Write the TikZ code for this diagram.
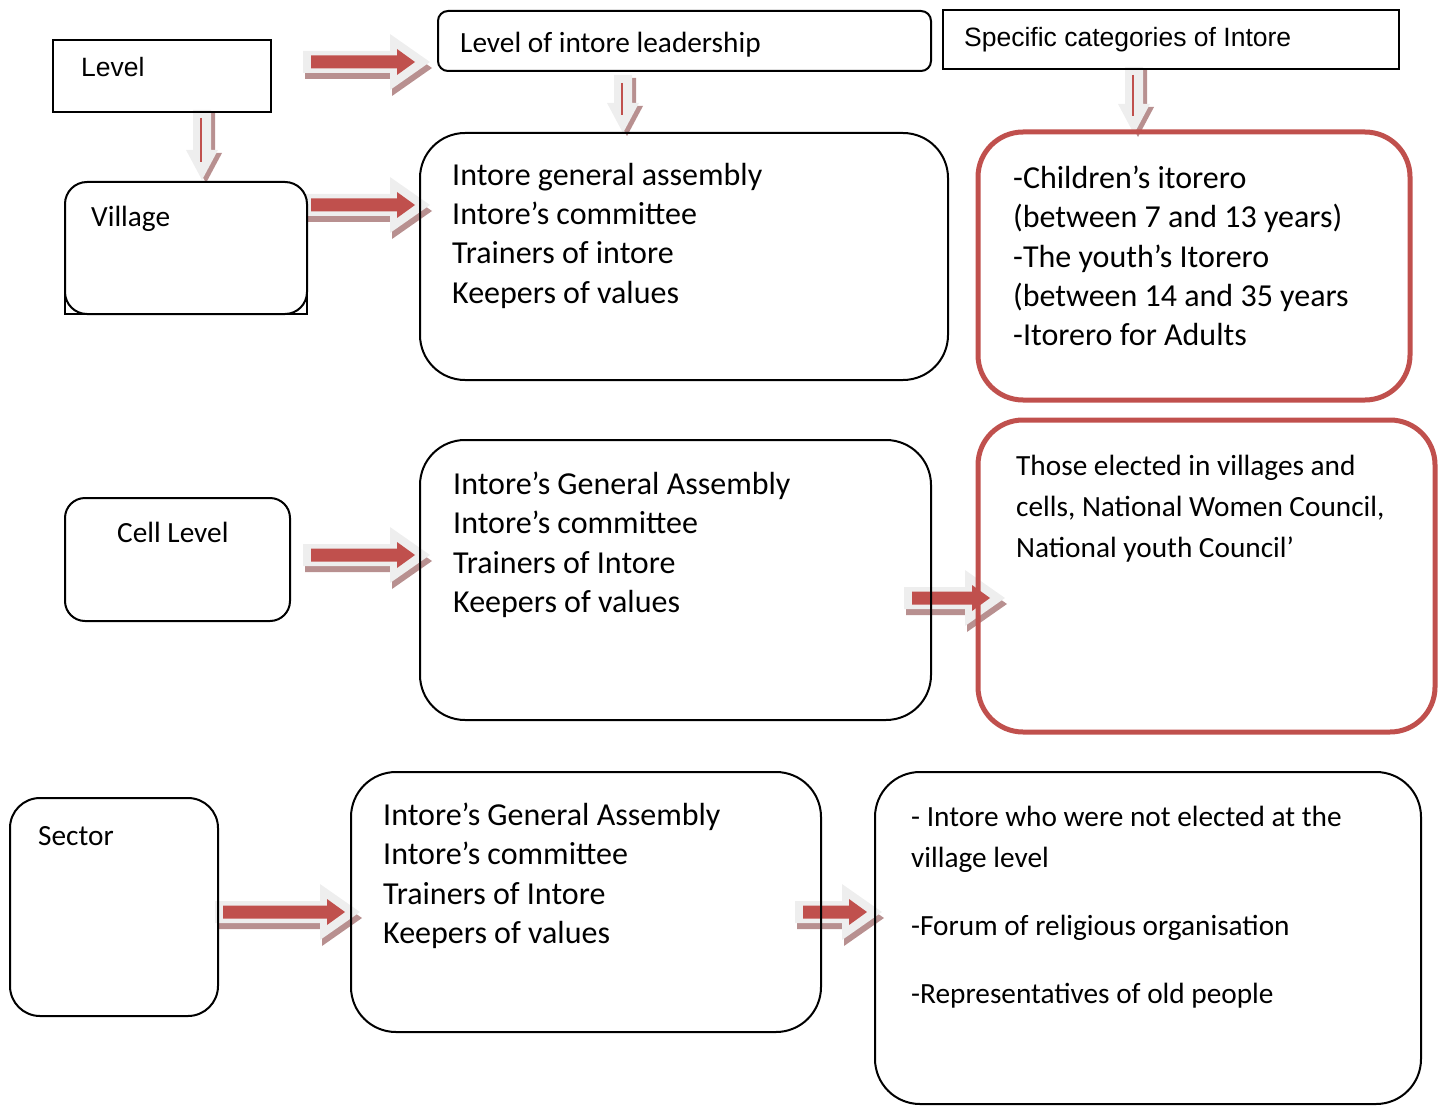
\documentclass[tikz,border=0pt]{standalone}
\usepackage{fontspec}
\newfontfamily\calib{Carlito}
\newfontfamily\arialf{Liberation Sans}
\definecolor{ared}{HTML}{C0504D}
\definecolor{agrey}{HTML}{EEEEEE}
\definecolor{ashadow}{HTML}{B89090}
% horizontal block arrow: name, x0, yc, length
\newcommand\harr[4]{%
  \begin{scope}[shift={(#2,#3)}]
    \coordinate (#1) at (0,0);
    \fill[ashadow] (2,-5) -- ({#4-38},-5) -- ({#4-38},-22) -- ({#4+2},6) -- ({#4-38},34) -- ({#4-38},17) -- (2,17) -- cycle;
    \fill[agrey] (0,-11) -- ({#4-40},-11) -- ({#4-40},-28) -- (#4,0) -- ({#4-40},28) -- ({#4-40},11) -- (0,11) -- cycle;
    \fill[ared] (8,-6.5) -- ({#4-33},-6.5) -- ({#4-33},-13) -- ({#4-15},0) -- ({#4-33},13) -- ({#4-33},6.5) -- (8,6.5) -- cycle;
  \end{scope}}
% vertical block arrow: name, xc, y0, length
\newcommand\varr[4]{%
  \begin{scope}[shift={(#2,#3)}]
    \coordinate (#1) at (0,0);
    \fill[ashadow] (-5,3) -- (13,3) -- (13,{#4-27}) -- (20,{#4-27}) -- (4,{#4+3}) -- (-12,{#4-27}) -- (-5,{#4-27}) -- cycle;
    \fill[agrey] (-9,0) -- (9,0) -- (9,{#4-30}) -- (16,{#4-30}) -- (0,#4) -- (-16,{#4-30}) -- (-9,{#4-30}) -- cycle;
    \draw[ared, line width=2.5pt] (-1,8) -- (-1,{#4-18});
  \end{scope}}
\begin{document}
\begin{tikzpicture}[x=1pt,y=-1pt,
  box/.style={draw, line width=2pt, rectangle, inner sep=0pt},
  rbox/.style={box, rounded corners=#1},
  redbox/.style={draw=ared, line width=5pt, rectangle, rounded corners=45pt, inner sep=0pt},
  txt/.style={anchor=north west, inner sep=0pt, align=left},
  big/.style={txt, font=\calib\fontsize{32}{39.2}\selectfont},
  mid/.style={txt, font=\calib\fontsize{29.3}{41}\selectfont},
  ari/.style={txt, font=\arialf\fontsize{26.5}{32}\selectfont}]
\useasboundingbox (0,0) rectangle (1439,1107);

% arrows (drawn first, boxes overlay)
\harr{a1}{303}{62}{127}
\harr{a2}{303}{205}{127}
\harr{a3}{303}{555}{127}
\harr{a4}{904}{598}{101}
\harr{a5}{215}{912}{145}
\harr{a6}{795}{912}{87}
\varr{v1}{202}{110}{70}
\varr{v2}{623}{75}{58}
\varr{v3}{1134}{67}{67}

% boxes
\node[box, minimum width=218pt, minimum height=72pt] (lvl) at (162,76) {};
\node[rbox=10pt, minimum width=493pt, minimum height=60pt] (lil) at (684.5,41) {};
\node[box, minimum width=456pt, minimum height=59pt] (spc) at (1171,39.5) {};
\draw[line width=2pt] (65,280) -- (65,314) -- (307,314) -- (307,280);
\node[rbox=22pt, fill=white, minimum width=242pt, minimum height=132pt] (vil) at (186,248) {};
\node[rbox=45pt, minimum width=528pt, minimum height=247pt] (b1) at (684,256.5) {};
\node[redbox, minimum width=432pt, minimum height=268pt] (r1) at (1194,266) {};
\node[rbox=20pt, minimum width=225pt, minimum height=123pt] (cel) at (177.5,559.5) {};
\node[rbox=45pt, minimum width=511pt, minimum height=280pt] (b2) at (675.5,580) {};
\node[redbox, minimum width=457pt, minimum height=312pt] (r2) at (1206.5,576) {};
\node[rbox=30pt, minimum width=208pt, minimum height=218pt] (sec) at (114,907) {};
\node[rbox=45pt, minimum width=470pt, minimum height=260pt] (b3) at (586,902) {};
\node[rbox=45pt, minimum width=546pt, minimum height=332pt] (b4) at (1148,938) {};

% texts
\node[ari] (tlvl) at (81,57) {Level};
\node[mid] (tlil) at (460,32) {Level of intore leadership};
\node[ari] (tspc) at (964,27) {Specific categories of Intore};
\node[mid] (tvil) at (91,206) {Village};
\node[big] (tb1) at (452,163) {Intore general assembly\\Intore’s committee\\Trainers of intore\\Keepers of values};
\node[big] (tr1) at (1013,166) {-Children’s itorero\\(between 7 and 13 years)\\-The youth’s Itorero\\(between 14 and 35 years\\-Itorero for Adults};
\node[mid] (tcel) at (117,522) {Cell Level};
\node[big] (tb2) at (453,472) {Intore’s General Assembly\\Intore’s committee\\Trainers of Intore\\Keepers of values};
\node[mid] (tr2) at (1016,455) {Those elected in villages and\\cells, National Women Council,\\National youth Council’};
\node[mid] (tsec) at (38,826) {Sector};
\node[big] (tb3) at (383,803) {Intore’s General Assembly\\Intore’s committee\\Trainers of Intore\\Keepers of values};
\node[mid] (tb4) at (911,806) {- Intore who were not elected at the\\village level\\[27pt]-Forum of religious organisation\\[27pt]-Representatives of old people};
\end{tikzpicture}
\end{document}
